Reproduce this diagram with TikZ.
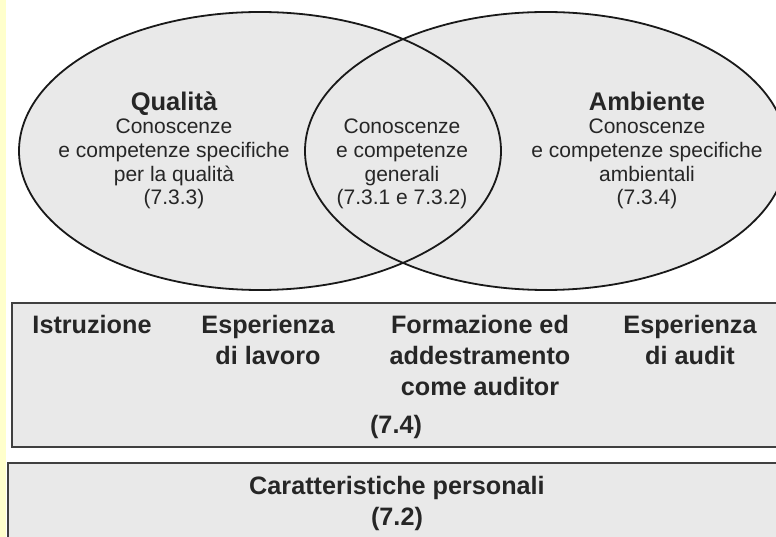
\documentclass[tikz,border=0pt]{standalone}
\usepackage{fontspec}
\setmainfont{Liberation Sans}
\definecolor{venngray}{RGB}{233,233,233}
\definecolor{stripyellow}{RGB}{255,255,204}
\newcommand{\venntitle}[1]{{\fontsize{25.5}{23.7}\selectfont\bfseries #1}}

\begin{document}
\begin{tikzpicture}[x=1pt, y=-1pt,
	venn/.style={draw=black!90, line width=1.8pt},
	panel/.style={fill=venngray, draw=black!75, line width=1.8pt},
	vennbody/.style={align=center, anchor=base, inner sep=0pt, text=black!85, font=\fontsize{21}{23.7}\selectfont},
	boxtext/.style={align=center, anchor=base, inner sep=0pt, text=black!85, font=\fontsize{25.2}{31}\selectfont\bfseries}]
	
	\clip (0,0) rectangle (776,537);
	\fill[stripyellow] (0,0) rectangle (6,537);
	
	% the two sets
	\fill[venngray] (260,151) ellipse [x radius=241pt, y radius=139pt];
	\fill[venngray] (546,151) ellipse [x radius=241pt, y radius=139pt];
	\draw[venn] (260,151) coordinate (qual) ellipse [x radius=241pt, y radius=139pt];
	\draw[venn] (546,151) coordinate (amb) ellipse [x radius=241pt, y radius=139pt];
	
	% base = last line
	\node[vennbody] (qualtxt) at (174,205) {\venntitle{Qualità}\\Conoscenze\\e competenze specifiche\\per la qualità\\(7.3.3)};
	\node[vennbody] (gentxt) at (402,205) {Conoscenze\\e competenze\\generali\\(7.3.1 e 7.3.2)};
	\node[vennbody] (ambtxt) at (647,205) {\venntitle{Ambiente}\\Conoscenze\\e competenze specifiche\\ambientali\\(7.3.4)};
	
	% panels below
	\draw[panel] (12,303) coordinate (p1) rectangle (784,447);
	\draw[panel] (8,463) coordinate (p2) rectangle (784,548);
	
	\node[boxtext] (istr) at (92,333) {Istruzione};
	\node[boxtext] (lavoro) at (268,364) {Esperienza\\di lavoro};
	\node[boxtext] (formaz) at (480,395) {Formazione ed\\addestramento\\come auditor};
	\node[boxtext] (audit) at (690,364) {Esperienza\\di audit};
	\node[boxtext] (sez74) at (396,433) {(7.4)};
	
	\node[boxtext] (pers) at (397,525) {Caratteristiche personali\\(7.2)};
	
\end{tikzpicture}
\end{document}
